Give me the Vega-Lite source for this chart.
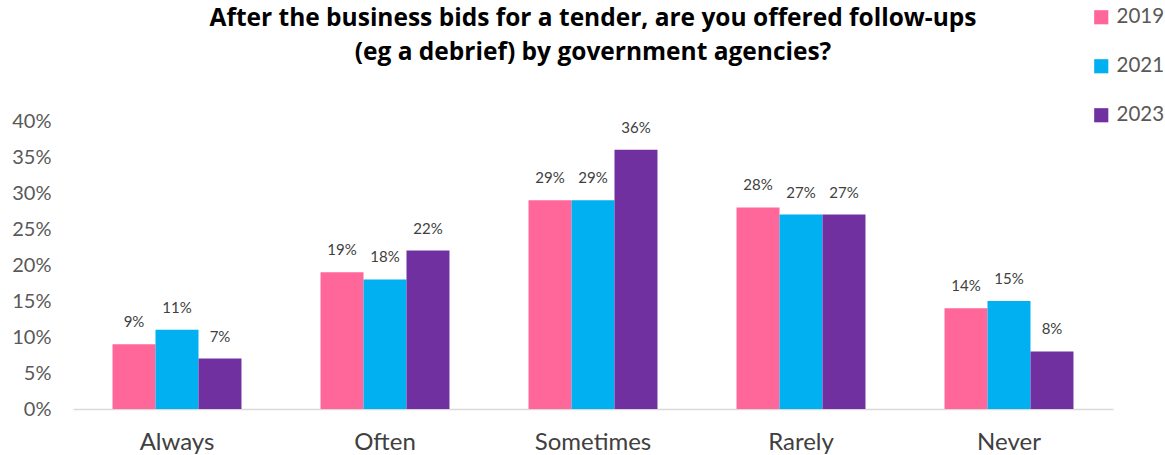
{
  "$schema": "https://vega.github.io/schema/vega-lite/v6.json",
  "width": 1040,
  "height": 288,
  "autosize": {"type": "none"},
  "padding": {"left": 73, "top": 121, "right": 52, "bottom": 46},
  "background": "white",
  "config": {"view": {"stroke": null}, "font": "Lato"},
  "title": {
    "text": ["After the business bids for a tender, are you offered follow-ups", "(eg a debrief) by government agencies?"],
    "anchor": "middle",
    "frame": "group",
    "fontSize": 24.5,
    "fontWeight": "bold",
    "font": "Open Sans",
    "color": "#000000",
    "lineHeight": 34,
    "offset": -58
  },
  "data": {
    "values": [
      {"cat": "Always", "year": "2019", "v": 0.09},
      {"cat": "Always", "year": "2021", "v": 0.11},
      {"cat": "Always", "year": "2023", "v": 0.07},
      {"cat": "Often", "year": "2019", "v": 0.19},
      {"cat": "Often", "year": "2021", "v": 0.18},
      {"cat": "Often", "year": "2023", "v": 0.22},
      {"cat": "Sometimes", "year": "2019", "v": 0.29},
      {"cat": "Sometimes", "year": "2021", "v": 0.29},
      {"cat": "Sometimes", "year": "2023", "v": 0.36},
      {"cat": "Rarely", "year": "2019", "v": 0.28},
      {"cat": "Rarely", "year": "2021", "v": 0.27},
      {"cat": "Rarely", "year": "2023", "v": 0.27},
      {"cat": "Never", "year": "2019", "v": 0.14},
      {"cat": "Never", "year": "2021", "v": 0.15},
      {"cat": "Never", "year": "2023", "v": 0.08}
    ]
  },
  "encoding": {
    "x": {
      "field": "cat", "type": "nominal", "sort": null,
      "scale": {"paddingInner": 0.38, "paddingOuter": 0.19},
      "axis": {"title": null, "labelAngle": 0, "labelFontSize": 24, "labelColor": "#404040", "labelPadding": 21, "ticks": false, "domainColor": "#d9d9d9", "domainWidth": 1.5, "labelFont": "Lato"}
    },
    "xOffset": {"field": "year", "type": "nominal"},
    "y": {
      "field": "v", "type": "quantitative",
      "scale": {"domain": [0, 0.4]},
      "axis": {"title": null, "format": ".0%", "values": [0,0.05,0.1,0.15,0.2,0.25,0.3,0.35,0.4], "labelOverlap": false, "grid": false, "domain": false, "ticks": false, "labelFontSize": 20, "labelColor": "#595959", "labelPadding": 22, "labelFont": "Lato"}
    }
  },
  "layer": [
    {
      "mark": {"type": "bar"},
      "encoding": {
        "color": {
          "field": "year", "type": "nominal",
          "scale": {"domain": ["2019", "2021", "2023"], "range": ["#ff6699", "#00b0f0", "#7030a0"]},
          "legend": {
            "title": null, "orient": "none", "legendX": 1018, "legendY": -114,
            "symbolType": "square", "symbolSize": 200, "symbolStrokeWidth": 0,
            "labelFontSize": 20.5, "labelColor": "#595959", "rowPadding": 28, "labelOffset": 5, "labelFont": "Lato"
          }
        }
      }
    },
    {
      "mark": {"type": "text", "dy": -22, "fontSize": 15, "color": "#404040", "font": "Lato"},
      "encoding": {
        "text": {"field": "v", "type": "quantitative", "format": ".0%"}
      }
    }
  ]
}
